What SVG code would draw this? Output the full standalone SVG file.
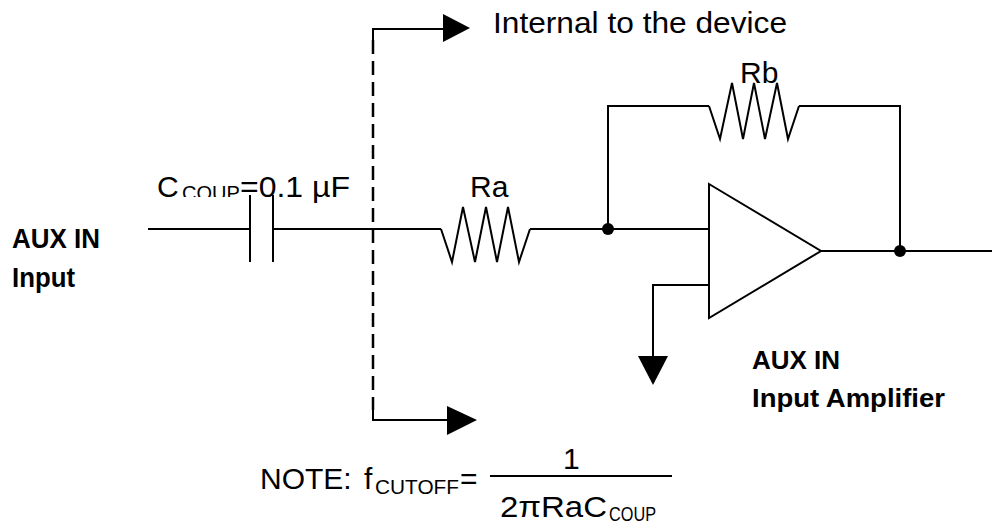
<svg xmlns="http://www.w3.org/2000/svg" width="992" height="525" viewBox="0 0 992 525">
<style>
.w{fill:none;stroke:#000;stroke-width:2;stroke-linejoin:miter}
.d{fill:none;stroke:#000;stroke-width:2.5;stroke-dasharray:14 7}
.t{font-family:"Liberation Sans",Arial,sans-serif;font-size:30px;fill:#000}
.b{font-family:"Liberation Sans",Arial,sans-serif;font-size:26px;font-weight:bold;fill:#000}
.bl{font-size:28px}
.s{font-family:"Liberation Sans",Arial,sans-serif;font-size:20px;fill:#000}
.dot{fill:#000}
.ah{fill:#000}
</style>
<defs>
<clipPath id="cl"><rect x="170" y="170" width="80" height="27"/></clipPath>
</defs>
<rect width="992" height="525" fill="#fff"/>
<g id="connectors">
<path class="w" d="M148 229H250M273 229H441M530 229H709"/>
<path class="w" d="M608 229V106H709M799 106H900V251M821 251H992"/>
<path class="w" d="M709 285H653V356"/>
<path class="d" d="M373 40V410"/>
<path class="w" d="M373 40V29H448"/>
<path class="w" d="M373 410V420H450"/>
</g>
<g id="capacitor">
<path class="w" d="M250 195V262M273 195V262"/>
<text class="t" x="157" y="197">C</text>
<text class="s" x="182" y="200" clip-path="url(#cl)">COUP</text>
<text class="t" x="240" y="197" textLength="110" lengthAdjust="spacingAndGlyphs">=0.1 µF</text>
</g>
<g id="ra">
<path class="w" d="M441 229L452 262L463 207L475 262L486 207L497 262L508 207L519 262L530 229"/>
<text class="t" x="470" y="197">Ra</text>
</g>
<g id="rb">
<path class="w" d="M709 106L720 139L732 83L743 139L754 83L765 139L777 83L788 139L799 106"/>
<text class="t" x="740" y="83">Rb</text>
</g>
<g id="opamp">
<path class="w" d="M709 184L821 251L709 318Z" fill="#fff"/>
</g>
<g id="nodes">
<circle class="dot" cx="608" cy="229" r="6"/>
<circle class="dot" cx="900" cy="251" r="6"/>
</g>
<g id="ground">
<polygon class="ah" points="638,356 668,356 653,385"/>
</g>
<g id="internal-arrow-top">
<polygon class="ah" points="443,14 470,28 443,42"/>
<text class="t" x="493" y="33" textLength="294" lengthAdjust="spacingAndGlyphs">Internal to the device</text>
</g>
<g id="internal-arrow-bottom">
<polygon class="ah" points="447,406 477,420 447,435"/>
</g>
<g id="input-label">
<text class="b bl" x="12" y="248" textLength="88" lengthAdjust="spacingAndGlyphs">AUX IN</text>
<text class="b bl" x="12" y="287" textLength="63" lengthAdjust="spacingAndGlyphs">Input</text>
</g>
<g id="amp-label">
<text class="b" x="752" y="369">AUX IN</text>
<text class="b" x="752" y="407" textLength="193" lengthAdjust="spacingAndGlyphs">Input Amplifier</text>
</g>
<g id="note">
<text class="t" x="260" y="489">NOTE:</text>
<text class="t" x="364" y="489">f</text>
<text class="s" x="375" y="494" textLength="84" lengthAdjust="spacingAndGlyphs">CUTOFF</text>
<text class="t" x="460" y="489">=</text>
<path class="w" d="M490 476H672"/>
<text class="t" x="563" y="469">1</text>
<text class="t" x="500" y="517" textLength="107" lengthAdjust="spacingAndGlyphs">2πRaC</text>
<text class="s" x="609" y="521" textLength="47" lengthAdjust="spacingAndGlyphs">COUP</text>
</g>
</svg>
